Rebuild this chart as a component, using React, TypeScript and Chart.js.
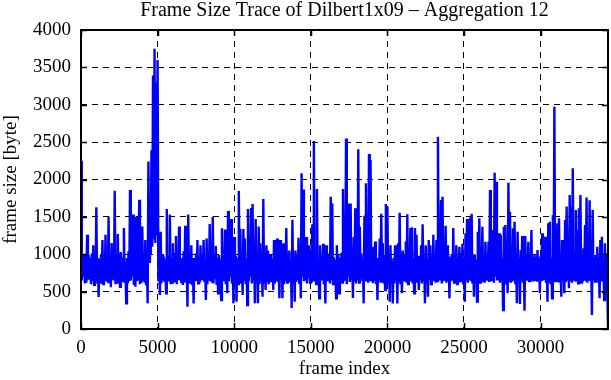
import React, { useEffect, useRef } from 'react';
import { Chart, registerables } from 'chart.js';

Chart.register(...registerables);

const TITLE = 'Frame Size Trace of Dilbert1x09 \u2013 Aggregation 12';
const X_LABEL = 'frame index';
const Y_LABEL = 'frame size [byte]';
const FONT_FAMILY = '"Liberation Serif", "Times New Roman", serif';

const FRAME_STEP = 50; // one sample every 50 frames of the aggregated trace
const X_MAX = 34400;
const Y_MAX = 4000;
const X_TICKS = [0, 5000, 10000, 15000, 20000, 25000, 30000];
const Y_TICKS = [0, 500, 1000, 1500, 2000, 2500, 3000, 3500, 4000];

// frame size (bytes), one value per FRAME_STEP frames
const FRAME_SIZES = [
  2250, 650, 980, 700, 1000, 610, 940, 620, 1260, 660, 990, 660, 950, 600, 1010, 640, 1120, 590, 960, 600,
  1630, 640, 950, 430, 940, 620, 1000, 680, 1190, 600, 930, 650, 1260, 640, 1050, 620, 1500, 610, 970, 560,
  1150, 660, 920, 650, 1850, 600, 990, 620, 1270, 640, 1010, 566, 1030, 690, 960, 640, 1350, 620, 900, 343,
  950, 610, 1040, 640, 1860, 650, 980, 700, 1530, 590, 950, 566, 1500, 640, 1000, 650, 1730, 600, 1020, 620,
  1370, 660, 980, 620, 1190, 600, 930, 343, 2240, 900, 1300, 1000, 2390, 1100, 3390, 1200, 3750, 1150, 3300, 1250,
  3600, 640, 950, 455, 1300, 610, 1000, 650, 970, 630, 940, 477, 1605, 660, 990, 650, 1530, 600, 960, 620,
  1146, 640, 1020, 640, 1244, 600, 980, 660, 1370, 650, 940, 611, 950, 590, 1040, 620, 1380, 640, 920, 298,
  1530, 620, 990, 650, 1120, 600, 950, 343, 950, 660, 1010, 640, 1190, 610, 970, 620, 1120, 650, 1000, 660,
  1190, 630, 930, 388, 1210, 600, 1020, 650, 1405, 640, 960, 620, 1500, 610, 990, 680, 1110, 590, 950, 477,
  990, 620, 940, 388, 1347, 650, 1000, 640, 1330, 600, 960, 477, 1578, 640, 1030, 700, 1470, 610, 910, 343,
  1230, 650, 980, 366, 950, 600, 1846, 640, 1340, 620, 990, 455, 1338, 660, 1210, 600, 950, 320, 1605, 640,
  1000, 700, 1620, 610, 1672, 650, 940, 343, 1470, 630, 960, 343, 1370, 600, 1146, 640, 980, 432, 1739, 620,
  950, 522, 1120, 640, 1050, 600, 1000, 640, 990, 650, 940, 522, 1190, 610, 1030, 640, 1210, 630, 960, 410,
  1190, 650, 990, 410, 1146, 600, 950, 640, 1350, 620, 1010, 650, 1050, 640, 930, 280, 1460, 610, 970, 366,
  1050, 630, 1000, 650, 1220, 600, 940, 410, 2083, 700, 1865, 640, 990, 650, 1230, 610, 960, 680, 1120, 620,
  980, 620, 1400, 650, 2515, 640, 1010, 600, 1873, 620, 950, 410, 1120, 660, 990, 650, 1140, 600, 920, 343,
  1120, 640, 1000, 640, 1010, 610, 1770, 650, 1681, 600, 960, 650, 930, 410, 1120, 630, 990, 477, 950, 620,
  1020, 620, 1873, 640, 970, 650, 2550, 600, 1000, 700, 1680, 630, 1680, 660, 950, 414, 1230, 640, 1614, 610,
  990, 650, 2404, 620, 1370, 640, 1010, 700, 940, 343, 1515, 650, 1949, 640, 1100, 620, 2341, 640, 2260, 640,
  960, 611, 1100, 640, 1170, 600, 930, 388, 950, 650, 1210, 620, 1540, 640, 1146, 610, 990, 522, 1672, 650,
  1640, 620, 950, 366, 1120, 640, 920, 343, 950, 610, 1120, 650, 980, 343, 1146, 630, 1555, 600, 1000, 477,
  1050, 640, 990, 650, 1170, 620, 1534, 600, 1020, 640, 1350, 650, 1360, 610, 950, 477, 1350, 640, 1260, 620,
  980, 522, 950, 650, 1120, 610, 1400, 640, 960, 343, 1120, 620, 940, 432, 1190, 650, 1120, 600, 1000, 640,
  1260, 660, 990, 620, 1190, 640, 2573, 650, 1010, 650, 1726, 610, 1770, 640, 980, 650, 1380, 620, 1120, 640,
  950, 410, 970, 640, 1000, 650, 1350, 620, 990, 650, 1120, 600, 960, 620, 1100, 640, 1020, 640, 1140, 610,
  940, 366, 1280, 650, 1470, 620, 1000, 660, 1490, 640, 1540, 610, 980, 432, 1000, 650, 930, 366, 1300, 640,
  1481, 620, 1000, 650, 1369, 640, 970, 620, 1168, 660, 1010, 656, 1168, 630, 1860, 640, 980, 640, 1324, 620,
  2091, 700, 1970, 650, 990, 650, 1280, 620, 1258, 640, 950, 254, 1369, 650, 1391, 610, 960, 478, 1957, 640,
  1570, 620, 1000, 634, 1347, 650, 1436, 600, 940, 344, 1302, 640, 960, 334, 1056, 640, 1244, 620, 930, 245,
  1244, 660, 1000, 650, 1168, 640, 980, 700, 1324, 650, 960, 640, 990, 660, 970, 634, 1056, 640, 950, 478,
  980, 640, 1280, 650, 1000, 660, 1235, 620, 940, 366, 1413, 640, 1436, 600, 950, 410, 1525, 650, 2974, 640,
  1000, 700, 1413, 640, 1480, 620, 960, 433, 1190, 650, 970, 478, 1458, 630, 1637, 650, 990, 544, 1793, 640,
  1637, 620, 2150, 650, 1000, 650, 1592, 640, 1324, 610, 1614, 650, 1793, 620, 980, 634, 1080, 650, 1391, 640,
  1758, 620, 1010, 650, 1722, 640, 950, 187, 1592, 650, 945, 620, 990, 620, 1101, 640, 960, 410, 1190, 650,
  1235, 640, 970, 388, 1146, 620, 1012, 600, 20,
];

const framePlugin = {
  id: 'frameAndTitle',
  afterDraw(chart: any) {
    const { ctx, chartArea } = chart;
    const { left, right, top, bottom } = chartArea;
    const xs = chart.scales.x;
    const ys = chart.scales.y;
    ctx.save();
    ctx.strokeStyle = '#000';
    ctx.lineWidth = 1.5;
    ctx.setLineDash([]);
    const tl = 6;
    ctx.beginPath();
    X_TICKS.forEach((v) => {
      const px = Math.round(xs.getPixelForValue(v)) + 0.5;
      ctx.moveTo(px, top);
      ctx.lineTo(px, top + tl);
      ctx.moveTo(px, bottom);
      ctx.lineTo(px, bottom - tl);
    });
    Y_TICKS.forEach((v) => {
      const py = Math.round(ys.getPixelForValue(v)) + 0.5;
      ctx.moveTo(left, py);
      ctx.lineTo(left + tl, py);
      ctx.moveTo(right, py);
      ctx.lineTo(right - tl, py);
    });
    ctx.stroke();
    ctx.lineWidth = 2;
    ctx.strokeRect(left, top, right - left, bottom - top);
    ctx.fillStyle = '#000';
    ctx.font = `20px ${FONT_FAMILY}`;
    ctx.textAlign = 'center';
    ctx.textBaseline = 'alphabetic';
    ctx.fillText(TITLE, (left + right) / 2, 16);
    ctx.restore();
  },
};

export default function App() {
  const ref = useRef<HTMLCanvasElement>(null);

  useEffect(() => {
    document.body.style.margin = '0';
    const canvas = ref.current;
    if (!canvas) return;
    const points = FRAME_SIZES.map((v, i) => ({ x: i * FRAME_STEP, y: v }));
    const tickFont = { family: FONT_FAMILY, size: 19 };
    const chart = new Chart(canvas, {
      type: 'line',
      data: {
        datasets: [
          {
            data: points,
            borderColor: '#0000ff',
            borderWidth: 2.4,
            pointRadius: 0,
            tension: 0,
            fill: false,
          },
        ],
      },
      options: {
        animation: false,
        responsive: false,
        events: [],
        layout: { padding: { top: 30, right: 3, left: 0, bottom: 0 } },
        plugins: {
          legend: { display: false },
          title: { display: false },
          tooltip: { enabled: false },
        },
        scales: {
          x: {
            type: 'linear',
            min: 0,
            max: X_MAX,
            afterBuildTicks: (s: any) => {
              s.ticks = X_TICKS.map((v) => ({ value: v }));
            },
            afterFit: (s: any) => {
              s.height = 51;
            },
            ticks: {
              color: '#000',
              font: tickFont,
              padding: 8,
              maxRotation: 0,
              autoSkip: false,
              callback: (v: any) => String(v),
            },
            grid: { color: '#000', lineWidth: 1, drawTicks: false },
            border: { display: false, dash: [6, 5] },
            title: {
              display: true,
              text: X_LABEL,
              color: '#000',
              font: tickFont,
              padding: 0,
            },
          },
          y: {
            type: 'linear',
            min: 0,
            max: Y_MAX,
            afterBuildTicks: (s: any) => {
              s.ticks = Y_TICKS.map((v) => ({ value: v }));
            },
            afterFit: (s: any) => {
              s.width = 81;
            },
            ticks: {
              color: '#000',
              font: tickFont,
              padding: 10,
              autoSkip: false,
              callback: (v: any) => String(v),
            },
            grid: { color: '#000', lineWidth: 1, drawTicks: false },
            border: { display: false, dash: [6, 5] },
            title: {
              display: true,
              text: Y_LABEL,
              color: '#000',
              font: tickFont,
              padding: 0,
            },
          },
        },
      },
      plugins: [framePlugin],
    });
    return () => chart.destroy();
  }, []);

  return (
    <div style={{ width: 611, height: 380 }}>
      <canvas ref={ref} width={611} height={380} style={{ display: 'block' }} />
    </div>
  );
}
